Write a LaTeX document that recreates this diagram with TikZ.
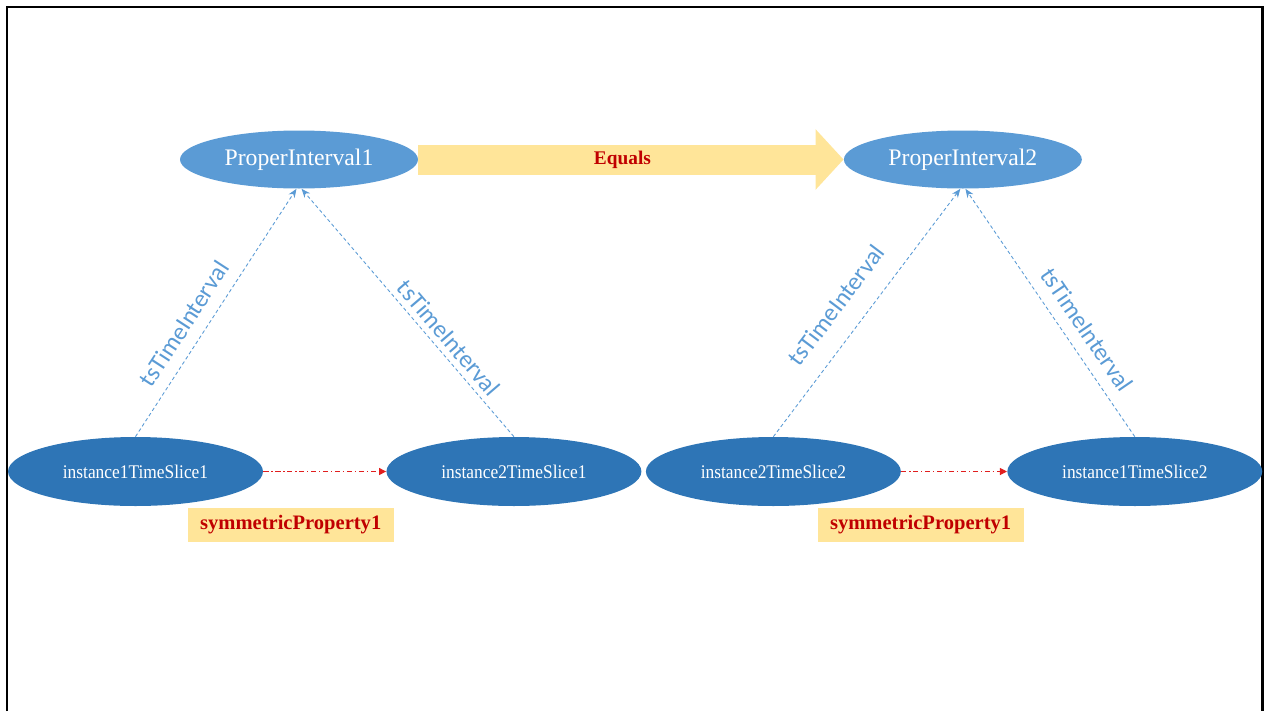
\documentclass[tikz,border=0pt]{standalone}
\usepackage{fontspec}
\setmainfont{Liberation Serif}
\newfontfamily\calib{Carlito}
\newfontfamily\slicefont[FakeStretch=0.9]{Liberation Serif}
\usetikzlibrary{arrows.meta,positioning,shapes.geometric}
\definecolor{P}{RGB}{91,155,213}
\definecolor{I}{RGB}{46,117,182}
\definecolor{Y}{RGB}{255,229,153}
\definecolor{R}{RGB}{192,0,0}
\definecolor{L}{RGB}{225,30,30}
\tikzstyle{prop} = [ellipse, fill=P, inner sep=0pt,
minimum width=4.76cm, minimum height=1.16cm,
text=white, font=\fontsize{13.5}{16}\selectfont]
\tikzstyle{slice} = [ellipse, fill=I, inner sep=0pt,
minimum width=5.1cm, minimum height=1.38cm,
text=white, font=\slicefont\fontsize{11}{13}\selectfont]
\tikzstyle{symbox} = [rectangle, fill=Y, minimum width=4.12cm, minimum height=0.68cm,
text=R, font=\bfseries\fontsize{11.7}{14}\selectfont]
\tikzstyle{ts} = [->, P, line width=0.5pt, dash pattern=on 2pt off 1.5pt]
\tikzstyle{rel} = [-{Triangle[length=4pt,width=4pt]}, L, line width=0.6pt,
dash pattern=on 3pt off 1.5pt on 0.8pt off 1.5pt]
\tikzstyle{tslabel} = [sloped, text=P, font=\calib\fontsize{14}{16}\selectfont]

\begin{document}
\begin{tikzpicture}[
    x=0.02cm, y=0.02cm, % one unit is one pixel of the page
    >={Stealth[length=5pt,width=4pt]},
    node distance=13.28cm,
  ]
    \useasboundingbox (0,0) rectangle (1265,-711);
    \draw[line width=1.7pt] (7,-711) -- (7,-7) -- (1262,-7) -- (1262,-711);

    \node[prop]              (p1) at (299,-159.5) {ProperInterval1};
    \node[prop, right of=p1] (p2)                 {ProperInterval2};

    \node[slice]                                     (i11) at (135.5,-471.5) {instance1TimeSlice1};
    \node[slice, right of=i11, node distance=7.57cm] (i21)                   {instance2TimeSlice1};
    \node[slice, right of=i21, node distance=5.19cm] (i22)                   {instance2TimeSlice2};
    \node[slice, right of=i22, node distance=7.23cm] (i12)                   {instance1TimeSlice2};

    \draw[Y, line width=0.6cm, -{Triangle[length=0.56cm,width=1.18cm]}] (p1) -- node[pos=0.48, text=R, font=\bfseries\fontsize{11}{13}\selectfont]{Equals} (p2);

    \draw[ts] (i11.north) -- node[tslabel, above=3.4pt, pos=0.41]{tsTimeInterval} (p1.-95);
    \draw[ts] (i21.north) -- node[tslabel, above, pos=0.36]{tsTimeInterval}      (p1.-85);
    \draw[ts] (i22.north) -- node[tslabel, above=8pt, pos=0.46]{tsTimeInterval}  (p2.-95);
    \draw[ts] (i12.north) -- node[tslabel, above=3.4pt, pos=0.385]{tsTimeInterval} (p2.-85);

    \draw[rel] (i11) -- node[symbox, shift={(-34,-53)}]{symmetricProperty1} (i21);
    \draw[rel] (i22) -- node[symbox, shift={(-33.5,-53)}]{symmetricProperty1} (i12);
\end{tikzpicture}
\end{document}
